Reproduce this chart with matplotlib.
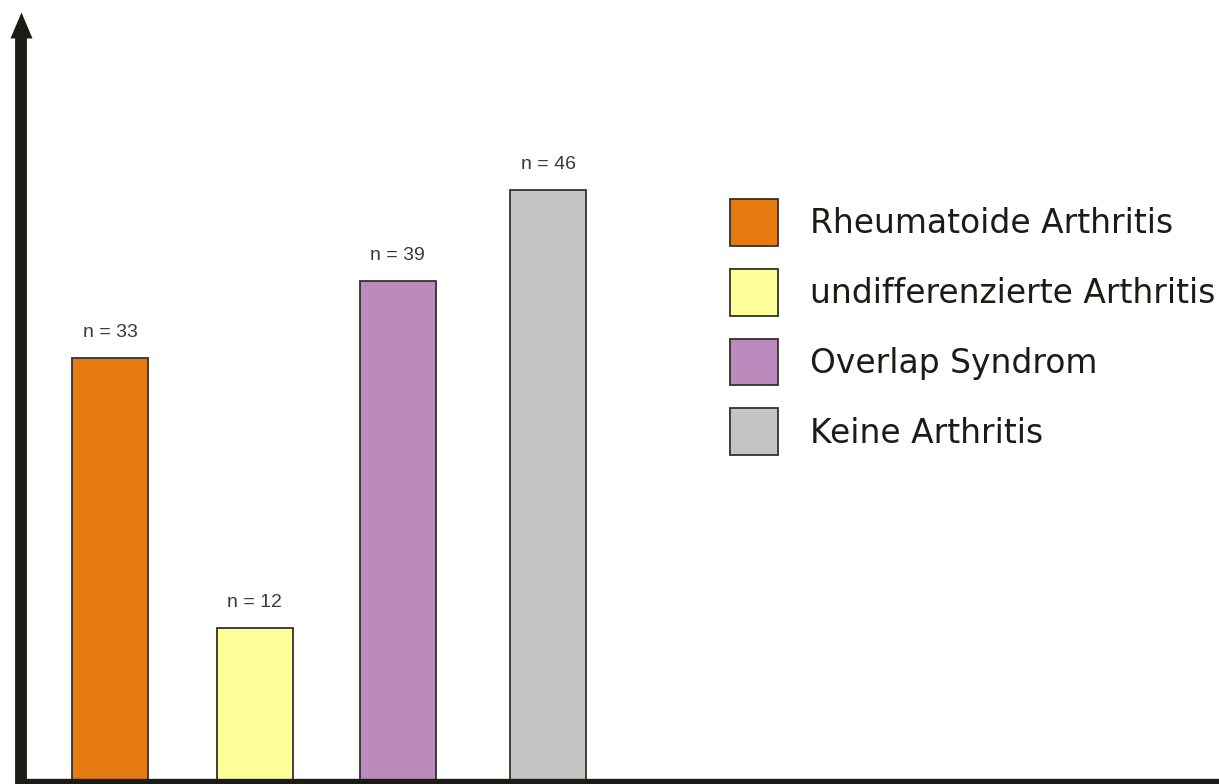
import numpy as np
import matplotlib.pyplot as plt
from matplotlib.patches import Patch

# data
categories = ['Rheumatoide Arthritis', 'undifferenzierte Arthritis', 'Overlap Syndrom', 'Keine Arthritis']
counts = [33, 12, 39, 46]
labels = ['n = 33', 'n = 12', 'n = 39', 'n = 46']

colors = ['#E57A10', '#FFFF99', '#BC8ABC', '#C4C4C4']
dark = '#1c1c16'

plt.rcParams['font.family'] = ['Liberation Sans', 'DejaVu Sans']

W, H = 1219, 784
base_px = 782.5   # y pixel of x axis
top_px = 12.0     # y pixel of arrow tip
fig = plt.figure(figsize=(W / 100, H / 100), dpi=100)
ax = fig.add_axes([20.5 / W, (H - base_px) / H, (W - 20.5) / W, (base_px - top_px) / H])

px_per_unit = 12.87
spacing = 146.0
# bar slots (slightly uneven, as in the original drawing)
xpos = [0, 0.99, 1.97, 3.0]
x0 = -(110 - 20.5) / spacing
ax.set_xlim(x0, x0 + (W - 20.5) / spacing)
ax.set_ylim(0, (base_px - top_px) / px_per_unit)

ax.bar(xpos, counts, width=76 / spacing, color=colors, edgecolor='#33332b',
       linewidth=1.3, zorder=2)

# n = .. labels
for xi, c, t in zip(xpos, counts, labels):
    ax.text(xi, c + 21 / px_per_unit, t, ha='center', va='baseline',
            fontsize=14, color='#3a3a3a')

# axes look
for s in ['top', 'right']:
    ax.spines[s].set_visible(False)
ax.spines['left'].set_linewidth(8.5)
ax.spines['left'].set_color(dark)
ax.spines['left'].set_bounds(0, (base_px - 34) / px_per_unit)
ax.spines['bottom'].set_linewidth(6)
ax.spines['bottom'].set_color(dark)
ax.set_xticks([])
ax.set_yticks([])

# arrow head on y axis
ax.plot([0], [1 - 13 / (base_px - top_px)], transform=ax.transAxes, clip_on=False,
        marker=[(0, 1), (-0.85, -1), (0.85, -1)], ms=18.7, color=dark,
        markeredgewidth=0, zorder=5)

# legend
handles = [Patch(facecolor=c, edgecolor='#33332b', linewidth=1.3) for c in colors]
fig.legend(handles, categories, loc='upper left',
           bbox_to_anchor=(730 / W, 1 - 199 / H), frameon=False,
           prop={'family': 'DejaVu Sans', 'size': 23.7},
           handlelength=1.456, handleheight=1.81,
           handletextpad=0.97, labelspacing=0.7, borderpad=0,
           borderaxespad=0, labelcolor=dark)

plt.savefig('out.png', dpi=100)
